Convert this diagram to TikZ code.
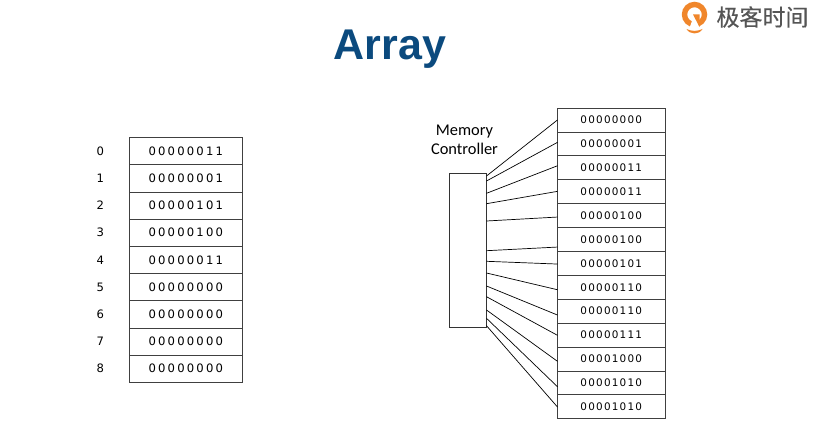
\documentclass[tikz,border=0pt]{standalone}
\usepackage{fontspec}
\usepackage{xcolor}
\usetikzlibrary{calc, chains, positioning}
\setmainfont{Liberation Sans}
\newfontfamily\cellfont[LetterSpace=19]{DejaVu Sans}
\newfontfamily\ramfont[LetterSpace=12]{DejaVu Sans}
\newfontfamily\labelfont{Carlito}
\newfontfamily\cjk[FakeBold=0.4]{Noto Sans CJK SC}
\definecolor{titleblue}{HTML}{0B4A7E}
\definecolor{logoorange}{HTML}{F0862B}
\definecolor{logogray}{HTML}{555555}

\begin{document}
\begin{tikzpicture}[x=1pt,y=-1pt,
    cell/.style={draw=black!75,line width=0.7pt,outer sep=0pt,inner sep=0pt,
      minimum width=112.5pt,minimum height=27.2pt,font=\cellfont\fontsize{11.6}{11.6}\selectfont},
    ramcell/.style={cell,minimum width=107.5pt,minimum height=23.9pt,
      font=\ramfont\fontsize{10.4}{10.4}\selectfont},
    idx/.style={font=\cellfont\fontsize{11.6}{11.6}\selectfont,left=22pt of #1},
    wire/.style={draw=black,line width=0.7pt},
    node distance=0pt,
    start chain=arr going below,
    start chain=ram going below]
  \useasboundingbox (0,0) rectangle (818,435);

  \node (title) at (390,49) {\fontsize{43}{43}\selectfont\bfseries\textcolor{titleblue}{Array}};

  % logo
  \draw[logoorange,line width=5.4pt] (694.5,14.5) circle (10pt);
  \fill[white] (689.5,28) -- (695,12.5) -- (699.5,28) -- cycle;
  \fill[logoorange] (693,14.5) -- (699.5,14.5) -- (699.5,27) -- cycle;
  \fill[logoorange] (686.5,29) .. controls (692,31.5) and (697,31.5) .. (702.5,29)
    .. controls (699,35) and (690,35) .. (686.5,29) -- cycle;
  \node[text=logogray,inner sep=0pt] (logo) at (762.5,17) {\cjk\fontsize{23}{23}\selectfont 极客时间};

  % array on the left
  \foreach \v [count=\i from 0] in {00000011,00000001,00000101,00000100,00000011,00000000,00000000,00000000,00000000} {
    \ifnum\i=0
      \node[cell,on chain=arr,anchor=north] (A\i) at (185.75,137.5) {\v};
    \else
      \node[cell,on chain=arr] (A\i) {\v};
    \fi
    \node[idx=A\i] (I\i) {\i};
  }

  % memory on the right
  \foreach \v [count=\i] in {00000000,00000001,00000011,00000011,00000100,00000100,00000101,00000110,00000110,00000111,00001000,00001010,00001010} {
    \ifnum\i=1
      \node[ramcell,on chain=ram,anchor=north] (R\i) at (611.25,108) {\v};
    \else
      \node[ramcell,on chain=ram] (R\i) {\v};
    \fi
  }

  \node[draw=black!80,line width=0.7pt,minimum width=37pt,minimum height=154pt,inner sep=0pt,outer sep=0pt] (MC) at (468,250) {};
  \node[font=\labelfont\fontsize{16.4}{19}\selectfont,align=center,inner sep=0pt] (MClabel) at (464.5,140) {Memory\\Controller};

  % wires from the controller, offsets from its top and from the cell centre
  \foreach \i/\a/\b in {1/3/0,2/8/-1.5,3/20.3/-2,4/30.7/-0.3,5/48/1.5,6/77.7/7.6,7/88.3/0.7,8/100/2.5,9/113/3.9,10/123.7/0.3,11/137/2.4,12/145.3/3.9,13/152.7/0.3} {
    \draw[wire] ($(MC.north east)+(0,\a)$) -- ($(R\i.west)+(0,\b)$);
  }
\end{tikzpicture}
\end{document}
